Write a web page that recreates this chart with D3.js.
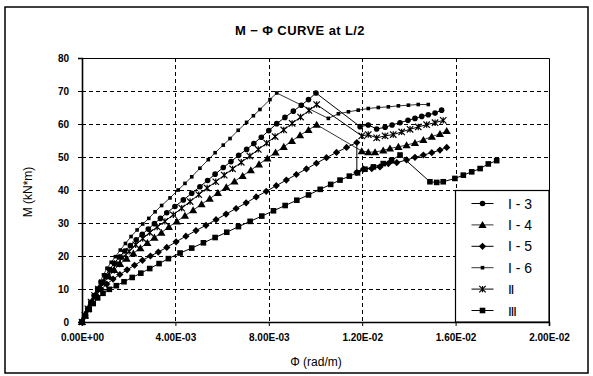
<!DOCTYPE html>
<html>
<head>
<meta charset="utf-8">
<script src="https://cdn.jsdelivr.net/npm/d3@7"></script>
<style>
  body { margin: 0; background: #fff; }
  svg { display: block; }
  text { font-family: "Liberation Sans", Arial, sans-serif; fill: #000; }
</style>
</head>
<body>
<svg id="chart" width="593" height="376"></svg>
<script>
// Moment-curvature data at mid-span. Each point is [curvature (x 1e-3 rad/m), moment (kN*m)].
const serI3 = [[0,0],[0.12,2.0],[0.25,4.0],[0.38,6.0],[0.52,8.0],[0.67,10.0],[0.83,12.0],[1.00,14.0],[1.18,15.9],[1.38,17.8],[1.60,19.7],[1.83,21.5],[2.07,23.2],[2.32,24.9],[2.58,26.6],[2.84,28.2],[3.10,29.8],[3.36,31.4],[3.63,33.1],[3.98,35.0],[4.34,37.0],[4.70,39.0],[5.05,41.0],[5.38,42.9],[5.70,44.8],[6.05,46.8],[6.38,48.6],[6.71,50.5],[7.05,52.3],[7.36,54.1],[7.68,56.0],[8.00,58.0],[8.34,60.1],[8.69,62.0],[9.05,63.9],[9.39,65.7],[9.70,67.4],[10.02,69.4],[11.91,59.2],[12.26,59.7],[12.62,58.5],[12.98,59.0],[13.28,59.7],[13.62,60.4],[13.96,61.1],[14.26,61.7],[14.55,62.3],[14.83,62.8],[15.12,63.3],[15.40,64.2]];

const serI4 = [[0,0],[0.13,2.0],[0.27,4.0],[0.42,6.0],[0.58,8.0],[0.75,10.0],[0.94,12.0],[1.15,13.9],[1.38,15.8],[1.63,17.6],[1.91,19.2],[2.20,20.8],[2.50,22.4],[2.80,24.0],[3.10,25.6],[3.40,27.1],[3.72,28.8],[4.06,30.5],[4.41,32.2],[4.76,33.9],[5.12,35.7],[5.47,37.4],[5.82,39.1],[6.18,40.9],[6.53,42.6],[6.88,44.3],[7.23,46.0],[7.58,47.8],[7.94,49.6],[8.29,51.4],[8.64,53.1],[8.99,54.9],[9.34,56.6],[9.70,58.2],[10.05,59.8],[11.98,51.8],[12.26,51.5],[12.55,51.5],[12.90,52.0],[13.19,52.6],[13.55,53.1],[13.90,53.6],[14.26,54.3],[14.62,55.2],[14.98,56.2],[15.33,57.0],[15.62,57.9]];

const serI5 = [[0,0],[0.13,2.0],[0.27,4.0],[0.43,6.0],[0.61,8.0],[0.82,9.9],[1.06,11.5],[1.33,13.0],[1.62,14.4],[1.93,15.8],[2.25,17.2],[2.59,18.7],[2.93,20.0],[3.27,21.2],[3.63,22.6],[4.03,24.3],[4.45,26.0],[4.88,27.7],[5.31,29.3],[5.74,31.0],[6.17,32.7],[6.60,34.4],[7.03,36.1],[7.46,37.9],[7.89,39.6],[8.32,41.3],[8.75,43.0],[9.18,44.7],[9.61,46.4],[10.04,48.1],[10.47,49.8],[10.90,51.4],[11.33,52.9],[11.77,54.4],[11.77,45.3],[12.05,46.3],[12.41,46.5],[12.76,47.0],[13.12,48.0],[13.48,48.3],[13.90,49.1],[14.26,49.9],[14.62,50.6],[14.98,51.3],[15.33,52.1],[15.62,52.9]];

const serI6 = [[0,0],[0.10,1.8],[0.21,3.6],[0.35,5.7],[0.50,7.7],[0.64,10.0],[0.78,12.2],[0.92,14.3],[1.07,16.3],[1.25,18.1],[1.43,19.8],[1.64,21.8],[1.86,23.8],[2.10,25.9],[2.36,27.9],[2.60,29.7],[2.86,31.4],[3.13,33.4],[3.41,35.3],[3.77,37.6],[4.12,40.0],[4.41,42.0],[4.70,44.0],[5.05,46.6],[5.41,49.2],[5.70,51.3],[6.05,53.6],[6.34,55.6],[6.69,58.1],[7.05,60.5],[7.34,62.5],[7.62,64.4],[8.05,67.4],[8.34,69.4],[10.55,61.7],[10.98,63.1],[11.41,63.7],[11.83,64.2],[12.26,64.7],[12.69,65.0],[13.12,65.2],[13.55,65.5],[13.98,65.7],[14.40,65.9],[14.83,65.9]];

const serII = [[0,0],[0.12,2.0],[0.25,4.0],[0.39,6.0],[0.54,8.0],[0.70,10.0],[0.87,11.9],[1.06,13.8],[1.27,15.7],[1.50,17.6],[1.75,19.5],[2.02,21.4],[2.30,23.4],[2.60,25.3],[2.90,27.1],[3.22,28.8],[3.55,30.5],[3.91,32.5],[4.27,34.5],[4.63,36.5],[5.00,38.6],[5.36,40.6],[5.73,42.5],[6.09,44.5],[6.45,46.4],[6.82,48.4],[7.19,50.3],[7.55,52.3],[7.91,54.2],[8.27,56.2],[8.64,58.2],[9.00,60.2],[9.36,62.1],[9.72,64.1],[10.05,65.9],[11.98,56.4],[12.26,56.8],[12.62,55.8],[12.98,56.4],[13.33,56.8],[13.69,57.6],[14.05,58.4],[14.40,59.1],[14.76,59.8],[15.12,60.4],[15.47,61.1]];

const serIII = [[0,0],[0.15,1.9],[0.31,3.8],[0.48,5.6],[0.67,7.3],[0.90,8.7],[1.17,9.9],[1.47,11.0],[1.80,12.2],[2.15,13.5],[2.52,14.8],[2.90,16.2],[3.30,17.7],[3.70,19.2],[4.20,20.9],[4.70,22.4],[5.20,24.0],[5.70,25.6],[6.20,27.2],[6.70,28.9],[7.20,30.5],[7.70,32.1],[8.20,33.7],[8.70,35.3],[9.20,36.9],[9.70,38.5],[10.20,40.2],[10.65,41.7],[11.05,43.0],[11.45,44.2],[11.80,45.2],[12.12,46.3],[12.48,47.0],[12.90,48.0],[13.26,49.0],[13.62,50.6],[14.90,42.5],[15.19,42.3],[15.47,42.5],[15.97,43.5],[16.33,44.5],[16.69,45.5],[17.05,46.5],[17.40,47.9],[17.76,48.9]];

const seriesNames = ["I - 3", "I - 4", "I - 5", "I - 6", "Ⅱ", "Ⅲ"];
const yTicks = [0, 10, 20, 30, 40, 50, 60, 70, 80];
const xTicks = [0, 4, 8, 12, 16, 20];
const xTickLabels = ["0.00E+00", "4.00E-03", "8.00E-03", "1.20E-02", "1.60E-02", "2.00E-02"];
const titleText = "M − Φ CURVE at L/2";
const xTitle = "Φ (rad/m)";
const yTitle = "M (kN*m)";

// marker and stroke style per series, in legend order
const styles = [
  { marker: "circle",   size: 2.8, width: 1.0 },
  { marker: "triangle", size: 3.9, width: 0.8 },
  { marker: "diamond",  size: 3.6, width: 1.0 },
  { marker: "dot",      size: 1.8, width: 0.8 },
  { marker: "star",     size: 3.2, width: 1.0 },
  { marker: "square",   size: 2.8, width: 1.0 }
];
const seriesData = [serI3, serI4, serI5, serI6, serII, serIII];

const svg = d3.select("#chart");
const plot = { left: 82, right: 549, top: 58, bottom: 322 };

const x = d3.scaleLinear().domain([0, 20]).range([plot.left, plot.right]);
const y = d3.scaleLinear().domain([0, 80]).range([plot.bottom, plot.top]);

// outer chart frame
svg.append("rect").attr("x", 5).attr("y", 7).attr("width", 583).attr("height", 366)
  .attr("fill", "#fff").attr("stroke", "#000").attr("stroke-width", 1.5);

// title and axis titles
svg.append("text").attr("x", 300).attr("y", 35).attr("text-anchor", "middle")
  .attr("font-size", 13).attr("font-weight", "bold").attr("letter-spacing", 0.4).text(titleText);
svg.append("text").attr("transform", "translate(32,192) rotate(-90)")
  .attr("text-anchor", "middle").attr("font-size", 12).text(yTitle);
svg.append("text").attr("x", 316).attr("y", 366).attr("text-anchor", "middle")
  .attr("font-size", 12).text(xTitle);

// dashed grid
const grid = svg.append("g").attr("stroke", "#000").attr("stroke-width", 1).attr("stroke-dasharray", "4,3");
grid.selectAll("line.h").data(yTicks.filter(v => v > 0 && v < 80)).join("line")
  .attr("x1", plot.left).attr("x2", plot.right)
  .attr("y1", d => Math.round(y(d)) + 0.5).attr("y2", d => Math.round(y(d)) + 0.5);
grid.selectAll("line.v").data(xTicks.filter(v => v > 0 && v < 20)).join("line")
  .attr("y1", plot.top).attr("y2", plot.bottom)
  .attr("x1", d => Math.round(x(d)) + 0.5).attr("x2", d => Math.round(x(d)) + 0.5);

// plot border (top and right)
svg.append("path")
  .attr("d", `M${plot.left},${plot.top + 0.5}H${plot.right + 0.5}V${plot.bottom}`)
  .attr("fill", "none").attr("stroke", "#000").attr("stroke-width", 1);

// axes
const yAxis = svg.append("g").attr("transform", `translate(${plot.left},0)`)
  .call(d3.axisLeft(y).tickValues(yTicks).tickSize(4).tickPadding(9));
const xAxis = svg.append("g").attr("transform", `translate(0,${plot.bottom})`)
  .call(d3.axisBottom(x).tickValues(xTicks).tickSize(4).tickPadding(8)
    .tickFormat((d, i) => xTickLabels[i]));
[yAxis, xAxis].forEach(g => {
  g.select(".domain").attr("stroke", "#000").attr("stroke-width", 1.6);
  g.selectAll(".tick line").attr("stroke", "#000").attr("stroke-width", 1);
  g.selectAll(".tick text").attr("font-size", 10).attr("font-weight", "bold")
    .attr("font-family", "\"Liberation Sans\", Arial, sans-serif");
});

// marker drawing
function drawMarker(sel, st) {
  const s = st.size;
  switch (st.marker) {
    case "circle":
      sel.append("circle").attr("r", s).attr("fill", "#000");
      break;
    case "triangle":
      sel.append("path").attr("d", `M0,${-s}L${s * 1.05},${s * 0.8}L${-s * 1.05},${s * 0.8}Z`).attr("fill", "#000");
      break;
    case "diamond":
      sel.append("path").attr("d", `M0,${-s}L${s},0L0,${s}L${-s},0Z`).attr("fill", "#000");
      break;
    case "dot":
    case "square":
      sel.append("rect").attr("x", -s).attr("y", -s).attr("width", 2 * s).attr("height", 2 * s).attr("fill", "#000");
      break;
    case "star":
      sel.append("path")
        .attr("d", `M${-s},${-s}L${s},${s}M${-s},${s}L${s},${-s}M0,${-s}L0,${s}`)
        .attr("stroke", "#000").attr("stroke-width", 1.2).attr("fill", "none");
      break;
  }
}

// series lines and markers
const line = d3.line().x(d => x(d[0])).y(d => y(d[1]));
const seriesG = svg.append("g");
seriesData.forEach((data, i) => {
  seriesG.append("path").datum(data).attr("d", line)
    .attr("fill", "none").attr("stroke", "#000").attr("stroke-width", styles[i].width);
});
seriesData.forEach((data, i) => {
  const g = seriesG.append("g");
  g.selectAll("g").data(data).join("g")
    .attr("transform", d => `translate(${x(d[0])},${y(d[1])})`)
    .each(function () { drawMarker(d3.select(this), styles[i]); });
});

// legend
const lg = svg.append("g");
lg.append("rect").attr("x", 455.5).attr("y", 190.5).attr("width", 93.5).attr("height", 131.5)
  .attr("fill", "#fff").attr("stroke", "#000").attr("stroke-width", 1.2);
const legendY = d3.scalePoint().domain(seriesNames).range([203.5, 310.5]);
seriesNames.forEach((name, i) => {
  const yy = legendY(name);
  lg.append("line").attr("x1", 471.5).attr("x2", 493.5).attr("y1", yy).attr("y2", yy)
    .attr("stroke", "#000").attr("stroke-width", styles[i].width);
  drawMarker(lg.append("g").attr("transform", `translate(482.5,${yy})`), styles[i]);
  lg.append("text").attr("x", 508).attr("y", yy + 5).attr("font-size", i < 4 ? 14 : 13)
    .attr("font-family", i < 4 ? "\"Liberation Sans\", Arial, sans-serif" : "\"Noto Sans CJK KR\", sans-serif")
    .attr("xml:space", "preserve").text(name);
});
</script>
</body>
</html>
